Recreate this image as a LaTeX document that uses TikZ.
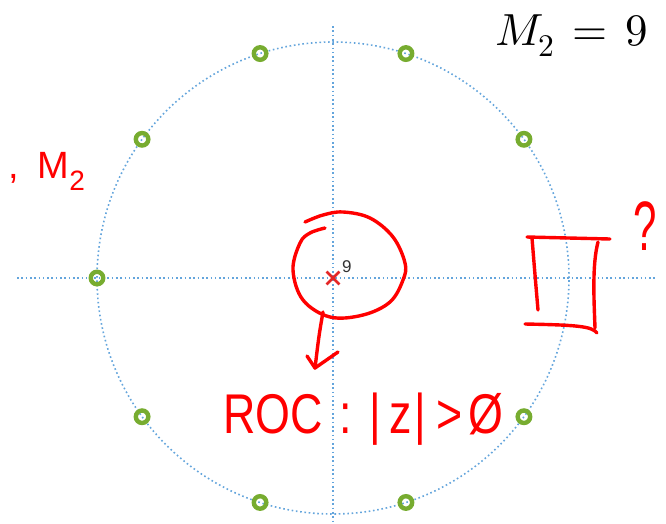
\documentclass[tikz,border=0pt]{standalone}
\usepackage{fontspec}
\usepackage{unicode-math}
\setmathfont{Latin Modern Math}
\usetikzlibrary{shapes.misc}
\newfontfamily\handfont{Liberation Sans}
\definecolor{axisblue}{RGB}{100,165,220}
\definecolor{zgreen}{RGB}{119,172,48}
\definecolor{polered}{RGB}{228,38,38}
\definecolor{penred}{RGB}{255,0,0}
\definecolor{labgray}{RGB}{50,50,50}
\tikzset{
  axisline/.style={draw=axisblue, line width=1.6pt, dash pattern=on 1.6pt off 2.7pt},
  zeromark/.style={circle, draw=zgreen, line width=4.4pt, minimum size=12.5pt, inner sep=0pt},
  polemark/.style={cross out, draw=polered, line width=2.8pt, minimum size=10pt, inner sep=0pt},
  pen/.style={draw=penred, line width=3.4pt, line cap=round, line join=round},
  handtext/.style={text=penred, inner sep=0pt, font=\handfont},
}
\begin{document}
\begin{tikzpicture}[x=1pt,y=-1pt]
\useasboundingbox (0,0) rectangle (666,523);
% axes and unit circle
\coordinate (xl) at (17,278);
\coordinate (xr) at (655,278);
\coordinate (yt) at (333,26);
\coordinate (yb) at (333,523);
\coordinate (o) at (333,278);
\draw[axisline] (xl) -- (xr);
\draw[axisline] (yt) -- (yb);
\draw[axisline] (o) circle (236pt);
% zeros
\foreach \k in {1,...,9}{
  \node[zeromark] (z\k) at ({333+236*cos(36*\k)},{278-236*sin(36*\k)}) {};
}
% pole
\node[polemark] (p) at (o) {};
\node[text=labgray, anchor=base west, inner sep=0pt, font=\handfont\fontsize{17}{19}\selectfont] (mult) at (342,272) {9};
% title
\node[anchor=base west, inner sep=0pt, font=\fontsize{45}{50}\selectfont] (title) at (495,45) {$M_2\mkern2mu=\mkern2mu9$};
% left handwritten note
\node[handtext, anchor=base west, font=\handfont\fontsize{38}{40}\selectfont] (mnote) at (8,178) {,\hspace{19pt}M\raisebox{-12pt}{\fontsize{28}{30}\selectfont 2}};
% ROC note
\node[handtext, anchor=base west, font=\handfont\fontsize{56}{60}\selectfont] (roc) at (223,433)
  {\scalebox{0.8}[1]{ROC\hspace{21pt}:\hspace{22pt}|\hspace{10pt}z\hspace{4pt}|\hspace{12pt}>\hspace{8pt}Ø}};
% question mark
\node[handtext, anchor=base west, font=\handfont\fontsize{70}{74}\selectfont] (q) at (633,250) {\scalebox{0.6}[1]{?}};
% loop around the pole
\draw[pen] plot[smooth, tension=0.6] coordinates {
  (305,222) (323,215) (343,212) (370,218) (393,237) (405,263) (403,280)
  (390,302) (363,315) (330,317) (303,300) (293,270) (300,243) (310,233) (325,228)};
% arrow from the loop down to the ROC note
\coordinate (a0) at (323,312);
\coordinate (a1) at (315,368);
\draw[pen] (a0) .. controls (319,335) .. (a1);
\draw[pen] (307,356) -- (a1) -- (338,352);
% hand-drawn box
\coordinate (b1) at (527,237);
\coordinate (b2) at (610,239);
\draw[pen] (b1) -- (b2);
\draw[pen] (532,238) .. controls (535,275) .. (538,310);
\draw[pen] (525,324) .. controls (575,325) and (592,326) .. (597,333);
\draw[pen] (598,242) .. controls (592,265) and (594,300) .. (595,328);
\end{tikzpicture}
\end{document}
